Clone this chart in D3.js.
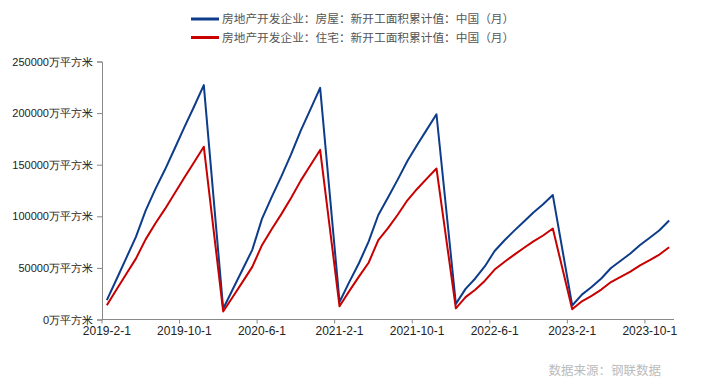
<!DOCTYPE html>
<html>
<head>
<meta charset="utf-8">
<script src="https://cdn.jsdelivr.net/npm/d3@7"></script>
<style>
  body { margin: 0; background: #fff; }
  svg { display: block; font-family: "Liberation Sans", Arial, "Noto Sans CJK SC", sans-serif; }
</style>
</head>
<body>
<div id="chart"></div>
<script>
// months from 2019-2 to 2023-12, January values are missing (null)
const months = [];
for (let yr = 2019; yr <= 2023; yr++) {
  for (let m = (yr === 2019 ? 2 : 1); m <= 12; m++) months.push(yr + "-" + m + "-1");
}

const seriesNames = [
  "房地产开发企业：房屋：新开工面积累计值：中国（月）",
  "房地产开发企业：住宅：新开工面积累计值：中国（月）"
];

// 万平方米
const houseValues = [
  18814, 39000, 59500, 80000, 105509, 126317, 145302, 165707, 186364, 206439, 227154,
  null, 10369, 29500, 48500, 67500, 97536, 118645, 138631, 160034, 183087, 203625, 224433,
  null, 17001, 36163, 54500, 75500, 101238, 118138, 135516, 153500, 169000, 184000, 198895,
  null, 15112, 29638, 39739, 51628, 66423, 76505, 85878, 94767, 103722, 111632, 120587,
  null, 13567, 24121, 31429, 39723, 49880, 56969, 63891, 72123, 79177, 86458, 96000
];

const homeValues = [
  13800, 29000, 44000, 59000, 77643, 93066, 107168, 122374, 137600, 152420, 167463,
  null, 7800, 22000, 36500, 51000, 72000, 87424, 102101, 117780, 134564, 149549, 164329,
  null, 12800, 27500, 41500, 55000, 77000, 88500, 101500, 115500, 126500, 136500, 146379,
  null, 10800, 21653, 28853, 37648, 48409, 55776, 62643, 69289, 75748, 81394, 88135,
  null, 9967, 17637, 22978, 28997, 36295, 41421, 46438, 52462, 57570, 62955, 70000
];

const yTicks = [0, 50000, 100000, 150000, 200000, 250000];
const colors = ["#0d3c8a", "#c80000"];

const width = 706, height = 384;
const plot = { left: 102, right: 674, top: 61.5, bottom: 319.5 };

const svg = d3.select("#chart").append("svg")
  .attr("width", width)
  .attr("height", height);

const x = d3.scaleBand()
  .domain(months)
  .range([plot.left, plot.right])
  .padding(0);

const y = d3.scaleLinear()
  .domain([0, 250000])
  .range([plot.bottom, plot.top]);

// y axis
const yAxis = svg.append("g")
  .attr("transform", "translate(" + plot.left + ",0)")
  .call(d3.axisLeft(y).tickValues(yTicks).tickSize(5).tickPadding(4)
    .tickFormat(d => d + "万平方米"));
yAxis.select(".domain").attr("stroke", "#888");
yAxis.selectAll(".tick line").attr("stroke", "#888");
yAxis.selectAll(".tick text")
  .attr("fill", "#222")
  .style("font-size", "11px");

// x axis: labels in band centres, ticks on band edges
const shown = months.filter((d, i) => i % 8 === 0);
const xAxis = svg.append("g")
  .attr("transform", "translate(0," + plot.bottom + ")")
  .call(d3.axisBottom(x).tickValues(shown).tickSize(0).tickPadding(7));
xAxis.select(".domain").attr("stroke", "#888").attr("d", "M" + plot.left + ",0H" + plot.right);
xAxis.selectAll(".tick text")
  .attr("fill", "#222")
  .style("font-size", "12px");
xAxis.selectAll(".edge")
  .data(shown)
  .enter()
  .append("line")
    .attr("class", "edge")
    .attr("x1", d => x(d))
    .attr("x2", d => x(d))
    .attr("y1", 0)
    .attr("y2", 4)
    .attr("stroke", "#888");

// lines (gaps in January are bridged)
const line = d3.line()
  .x(d => x(d.month) + x.bandwidth() / 2)
  .y(d => y(d.value));

[houseValues, homeValues].forEach(function(vals, i) {
  const pts = months.map((m, j) => ({ month: m, value: vals[j] }))
    .filter(d => d.value !== null);
  svg.append("path")
    .datum(pts)
    .attr("fill", "none")
    .attr("stroke", colors[i])
    .attr("stroke-width", 2)
    .attr("stroke-linejoin", "round")
    .attr("d", line);
});

// legend
const legend = svg.selectAll(".legend")
  .data(seriesNames)
  .enter()
  .append("g")
    .attr("class", "legend")
    .attr("transform", (d, i) => "translate(191," + (19 + i * 18.5) + ")");
legend.append("line")
  .attr("x1", 0).attr("x2", 28)
  .attr("stroke", (d, i) => colors[i])
  .attr("stroke-width", 3);
legend.append("text")
  .attr("x", 31)
  .attr("dy", "0.35em")
  .attr("fill", "#555")
  .style("font-size", "11.7px")
  .style("font-family", "'Noto Sans CJK SC', sans-serif")
  .text(d => d);

// source note
svg.append("text")
  .attr("x", 661)
  .attr("y", 371)
  .attr("dy", "0.35em")
  .attr("text-anchor", "end")
  .attr("fill", "#bbb")
  .style("font-size", "12.5px")
  .style("font-family", "'Noto Sans CJK SC', sans-serif")
  .text("数据来源：钢联数据");
</script>
</body>
</html>
